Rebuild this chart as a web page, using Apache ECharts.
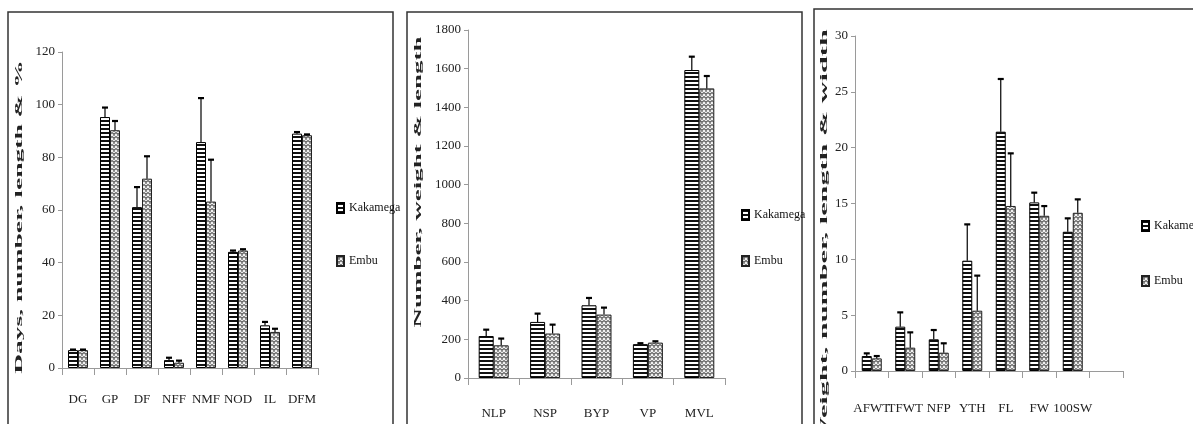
<!DOCTYPE html>
<html>
<head>
<meta charset="utf-8">
<script src="https://cdn.jsdelivr.net/npm/echarts@6/dist/echarts.min.js"></script>
<style>
html,body{margin:0;padding:0;background:#fff;}
#chart{width:1193px;height:424px;}
</style>
</head>
<body>
<div id="chart"></div>
<script>
// ---------- DATA ----------
const seriesNames = ['Kakamega', 'Embu'];

// Panel 1
const categories1 = ['DG', 'GP', 'DF', 'NFF', 'NMF', 'NOD', 'IL', 'DFM'];
const kakamega1 = [6.8, 95.3, 61.1, 3.0, 85.8, 44.1, 16.2, 89.0];
const kakamegaErr1 = [0.2, 3.6, 7.6, 0.9, 16.7, 0.5, 1.3, 0.6];
const embu1 = [6.8, 90.3, 71.9, 2.0, 63.2, 44.6, 13.7, 88.4];
const embuErr1 = [0.2, 3.5, 8.5, 0.8, 15.9, 0.5, 1.2, 0.3];
const yMax1 = 120, yStep1 = 20;
const yTitle1 = 'Days, number, length & %';

// Panel 2
const categories2 = ['NLP', 'NSP', 'BYP', 'VP', 'MVL'];
const kakamega2 = [217, 290, 376, 175, 1593];
const kakamegaErr2 = [33, 43, 38, 5, 69];
const embu2 = [169, 230, 328, 183, 1498];
const embuErr2 = [35, 46, 36, 7, 64];
const yMax2 = 1800, yStep2 = 200;
const yTitle2 = 'Number, weight & length';

// Panel 3
const categories3 = ['AFWT', 'TFWT', 'NFP', 'YTH', 'FL', 'FW', '100SW', ''];
const kakamega3 = [1.34, 3.97, 2.84, 9.88, 21.43, 15.1, 12.47];
const kakamegaErr3 = [0.24, 1.28, 0.83, 3.25, 4.72, 0.87, 1.2];
const embu3 = [1.13, 2.09, 1.64, 5.4, 14.78, 13.9, 14.17];
const embuErr3 = [0.21, 1.37, 0.84, 3.14, 4.71, 0.87, 1.2];
const yMax3 = 30, yStep3 = 5;
const yTitle3 = 'Weight, number, length & width';

// ---------- STYLE HELPERS ----------
function stripeCanvas() {
  const c = document.createElement('canvas'); c.width = 4; c.height = 4;
  const g = c.getContext('2d');
  g.fillStyle = '#fff'; g.fillRect(0, 0, 4, 4);
  g.fillStyle = '#111'; g.fillRect(0, 0, 4, 2);
  return c;
}
function zigCanvas() {
  const c = document.createElement('canvas'); c.width = 4; c.height = 4;
  const g = c.getContext('2d');
  g.fillStyle = '#f2f2f2'; g.fillRect(0, 0, 4, 4);
  g.strokeStyle = '#5a5a5a'; g.lineWidth = 1.1;
  g.beginPath(); g.moveTo(0, 0.5); g.lineTo(2, 2.5); g.lineTo(4, 0.5); g.stroke();
  g.fillStyle = '#9a9a9a'; g.fillRect(1, 3, 2, 1);
  return c;
}
const kakPattern = { image: stripeCanvas(), repeat: 'repeat' };
const embPattern = { image: zigCanvas(), repeat: 'repeat' };

const FONT = '"Liberation Serif", "Times New Roman", serif';

function errRender(offset) {
  return function (params, api) {
    const idx = api.value(0), v = api.value(1), e = api.value(2);
    const base = api.coord([idx, v]);
    const top = api.coord([idx, v + e]);
    const x = base[0] + offset;
    return {
      type: 'group',
      children: [
        { type: 'line', shape: { x1: x, y1: base[1], x2: x, y2: top[1] }, style: { stroke: '#000', lineWidth: 1.2 } },
        { type: 'line', shape: { x1: x - 3, y1: top[1], x2: x + 3, y2: top[1] }, style: { stroke: '#000', lineWidth: 2.2 } }
      ]
    };
  };
}

const panels = [
  { cats: categories1, k: kakamega1, ke: kakamegaErr1, e: embu1, ee: embuErr1, max: yMax1, step: yStep1,
    grid: { left: 62, top: 52, width: 256, height: 316 }, barW: 10, labelMargin: 25,
    legend: { left: 331, top: 197, itemGap: 41 } },
  { cats: categories2, k: kakamega2, ke: kakamegaErr2, e: embu2, ee: embuErr2, max: yMax2, step: yStep2,
    grid: { left: 468, top: 30, width: 257, height: 348 }, barW: 15, labelMargin: 29,
    legend: { left: 736, top: 204, itemGap: 34 } },
  { cats: categories3, k: kakamega3, ke: kakamegaErr3, e: embu3, ee: embuErr3, max: yMax3, step: yStep3,
    grid: { left: 855, top: 36, width: 268, height: 335 }, barW: 10, labelMargin: 31,
    legend: { left: 1136, top: 215, itemGap: 43 } }
];

const grids = [], xAxes = [], yAxes = [], series = [], legends = [];
panels.forEach((p, i) => {
  grids.push(Object.assign({ containLabel: false, outerBoundsMode: 'none' }, p.grid));
  xAxes.push({
    type: 'category', gridIndex: i, data: p.cats,
    axisLine: { lineStyle: { color: '#9a9a9a', width: 1 } },
    axisTick: { show: true, length: 7, lineStyle: { color: '#9a9a9a' } },
    axisLabel: { interval: 0, hideOverlap: false, margin: p.labelMargin, fontFamily: FONT, fontSize: 13, color: '#222' },
    splitLine: { show: false }
  });
  yAxes.push({
    type: 'value', gridIndex: i, min: 0, max: p.max, interval: p.step,
    axisLine: { show: true, lineStyle: { color: '#9a9a9a', width: 1 } },
    axisTick: { show: true, length: 4, lineStyle: { color: '#9a9a9a' } },
    axisLabel: { margin: 7, fontFamily: FONT, fontSize: 13, color: '#222', formatter: v => String(v) },
    splitLine: { show: false }
  });
  series.push({
    name: seriesNames[0], type: 'bar', xAxisIndex: i, yAxisIndex: i, data: p.k,
    barWidth: p.barW, barGap: '0%',
    itemStyle: { color: kakPattern, borderColor: '#000', borderWidth: 1 }
  });
  series.push({
    name: seriesNames[1], type: 'bar', xAxisIndex: i, yAxisIndex: i, data: p.e,
    barWidth: p.barW, barGap: '0%',
    itemStyle: { color: embPattern, borderColor: '#222', borderWidth: 1 }
  });
  series.push({
    type: 'custom', xAxisIndex: i, yAxisIndex: i, z: 5, silent: true,
    renderItem: errRender(-p.barW / 2),
    data: p.k.map((v, j) => [j, v, p.ke[j]])
  });
  series.push({
    type: 'custom', xAxisIndex: i, yAxisIndex: i, z: 5, silent: true,
    renderItem: errRender(p.barW / 2),
    data: p.e.map((v, j) => [j, v, p.ee[j]])
  });
  legends.push({
    data: seriesNames, orient: 'vertical', left: p.legend.left, top: p.legend.top,
    itemGap: p.legend.itemGap, itemWidth: 7, itemHeight: 10, icon: 'rect',
    selectedMode: false,
    textStyle: { fontFamily: FONT, fontSize: 12, color: '#111' }
  });
});

function yTitleText(text, x, y, scale) {
  return {
    type: 'text', x: x, y: y, rotation: Math.PI / 2, scaleX: scale, scaleY: 1, z: 10,
    style: { text: text, font: 'bold 11px ' + FONT, fill: '#222', align: 'center', verticalAlign: 'middle' }
  };
}

const graphic = [
  { type: 'rect', shape: { x: 8, y: 12, width: 385, height: 430 }, style: { fill: 'none', stroke: '#333', lineWidth: 1.5 }, z: 0 },
  { type: 'rect', shape: { x: 407, y: 12, width: 395, height: 430 }, style: { fill: 'none', stroke: '#333', lineWidth: 1.5 }, z: 0 },
  { type: 'rect', shape: { x: 814, y: 9, width: 400, height: 430 }, style: { fill: 'none', stroke: '#333', lineWidth: 1.5 }, z: 0 },
  yTitleText(yTitle1, 19, 217, 2.5),
  yTitleText(yTitle2, 418, 182, 2.45),
  yTitleText(yTitle3, 824, 238, 2.75)
];

const chart = echarts.init(document.getElementById('chart'), null, { renderer: 'canvas' });
chart.setOption({
  animation: false,
  backgroundColor: '#fff',
  grid: grids, xAxis: xAxes, yAxis: yAxes, series: series, legend: legends,
  graphic: graphic
});
</script>
</body>
</html>
